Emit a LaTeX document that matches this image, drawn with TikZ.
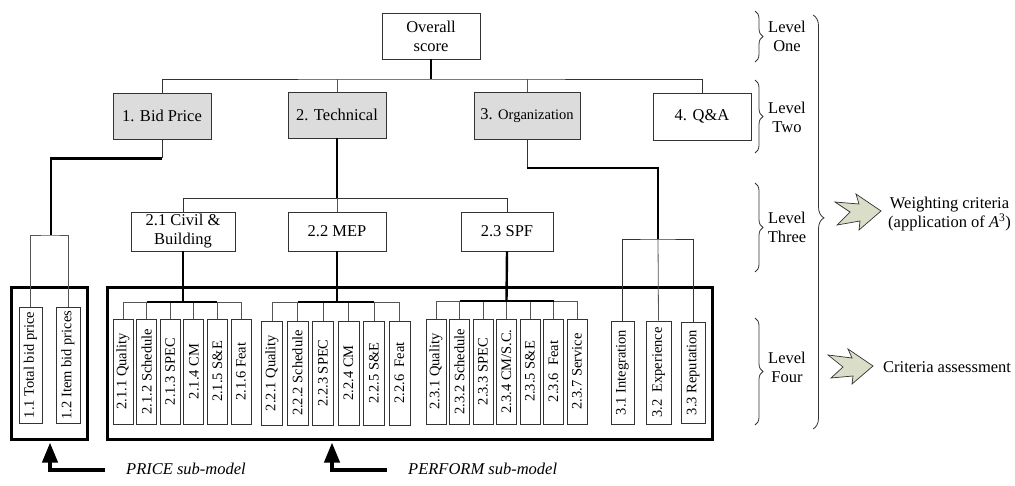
\documentclass[tikz,border=0pt]{standalone}
\usepackage{fontspec}
\setmainfont{Liberation Serif}
\usetikzlibrary{arrows.meta,decorations.pathreplacing}
\definecolor{boxgray}{HTML}{DCDCDC}
\definecolor{arrfill}{HTML}{DADDC8}
\definecolor{linec}{HTML}{333333}
\definecolor{thinc}{HTML}{555555}
\newcommand{\fsL}{\fontsize{16.5}{19}\selectfont}
\newcommand{\fsS}{\fontsize{14.5}{16}\selectfont}
\begin{document}
\begin{tikzpicture}[x=1pt,y=-1pt,
 box/.style={draw=linec, line width=0.9pt, inner sep=0pt, align=center, font=\fsL, fill=white},
 gbox/.style={box, fill=boxgray},
 vbox/.style={draw=linec, line width=0.9pt, inner sep=0pt, font=\fsS, minimum width=20pt, minimum height=105pt},
 conn/.style={draw=thinc, line width=0.8pt},
 busc/.style={draw=black, line width=1.4pt},
 thickc/.style={draw=black, line width=2.4pt},
 grp/.style={draw=black, line width=3pt, inner sep=0pt},
 lvbrace/.style={draw=linec, line width=0.8pt, decorate, decoration={brace, amplitude=8pt}},
 lvtext/.style={font=\fsL, align=center},
 bigarr/.style={draw=black, line width=4pt, -{Triangle[width=15pt,length=20pt]}},
 fancy/.style={draw=linec, line width=0.7pt, fill=arrfill, line join=miter}
]
\useasboundingbox (0,0) rectangle (1015,485);

% ---------- group outlines ----------
\node[grp, minimum width=76pt, minimum height=152pt] (price) at (49,363) {};
\node[grp, minimum width=605pt, minimum height=152pt] (perf) at (409.5,363) {};

% ---------- level 1 ----------
\node[box, minimum width=98pt, minimum height=46pt] (ov) at (431,36) {Overall\\score};

% ---------- level 2 ----------
\node[gbox, minimum width=98pt, minimum height=46pt] (bp) at (162,116) {1. Bid Price};
\node[gbox, minimum width=98pt, minimum height=46pt] (tech) at (337,115) {2. Technical};
\node[gbox, minimum width=106pt, minimum height=47pt] (org) at (527,116) {3. {\fontsize{14.5}{17}\selectfont Organization}};
\node[box, minimum width=98pt, minimum height=47pt] (qa) at (702,116.5) {4. Q\&A};

% ---------- level 3 ----------
\node[box, minimum width=104pt, minimum height=39pt] (civ) at (183,231.5) {2.1 Civil \&\\Building};
\node[box, minimum width=98pt, minimum height=39pt] (mep) at (337,231.5) {2.2 MEP};
\node[box, minimum width=92pt, minimum height=39pt] (spf) at (507,231.5) {2.3 SPF};

% ---------- level 4 ----------
\node[vbox, minimum width=23pt, minimum height=116pt] (p1) at (30.5,365) {\rotatebox{90}{1.1 Total bid price}};
\node[vbox, minimum width=24pt, minimum height=116pt] (p2) at (68,365) {\rotatebox{90}{1.2 Item bid prices}};

\node[vbox] (c1) at (123,371.5) {\rotatebox{90}{2.1.1 Quality}};
\node[vbox] (c2) at (146.6,371.5) {\rotatebox{90}{2.1.2 Schedule}};
\node[vbox] (c3) at (170.2,371.5) {\rotatebox{90}{2.1.3 SPEC}};
\node[vbox] (c4) at (193.8,371.5) {\rotatebox{90}{2.1.4 CM}};
\node[vbox] (c5) at (217.4,371.5) {\rotatebox{90}{2.1.5 S\&E}};
\node[vbox] (c6) at (241,371.5) {\rotatebox{90}{2.1.6 Feat}};

\node[vbox, minimum width=21pt, minimum height=104pt] (m1) at (272,373) {\rotatebox{90}{2.2.1 Quality}};
\node[vbox, minimum width=21pt, minimum height=104pt] (m2) at (297.5,373) {\rotatebox{90}{2.2.2 Schedule}};
\node[vbox, minimum width=21pt, minimum height=104pt] (m3) at (323,373) {\rotatebox{90}{2.2.3 SPEC}};
\node[vbox, minimum width=21pt, minimum height=104pt] (m4) at (348.5,373) {\rotatebox{90}{2.2.4 CM}};
\node[vbox, minimum width=21pt, minimum height=104pt] (m5) at (374,373) {\rotatebox{90}{2.2.5 S\&E}};
\node[vbox, minimum width=21pt, minimum height=104pt] (m6) at (399.5,373) {\rotatebox{90}{2.2.6\ \ Feat}};

\node[vbox] (s1) at (436,371.5) {\rotatebox{90}{2.3.1 Quality}};
\node[vbox] (s2) at (459.5,371.5) {\rotatebox{90}{2.3.2 Schedule}};
\node[vbox] (s3) at (483,371.5) {\rotatebox{90}{2.3.3 SPEC}};
\node[vbox] (s4) at (506.5,371.5) {\rotatebox{90}{2.3.4 CM/S.C.}};
\node[vbox] (s5) at (530,371.5) {\rotatebox{90}{2.3.5 S\&E}};
\node[vbox] (s6) at (553.5,371.5) {\rotatebox{90}{2.3.6\ \ Feat}};
\node[vbox] (s7) at (577,371.5) {\rotatebox{90}{2.3.7 Service}};

\node[vbox, minimum width=23pt, minimum height=103pt] (q1) at (622.5,372.5) {\rotatebox{90}{3.1 Integration}};
\node[vbox, minimum width=25pt, minimum height=103pt] (q2) at (658.5,372.5) {\rotatebox{90}{3.2\ \ Experience}};
\node[vbox, minimum width=24pt, minimum height=101pt] (q3) at (693,372.5) {\rotatebox{90}{3.3 Reputation}};

% ---------- connectors: level 1 -> 2 ----------
\coordinate (h1) at (431,79);
\draw[thickc, line width=1.8pt] (ov.south) -- (h1);
\draw[conn, draw=linec] (bp.north) |- (h1) -| (qa.north);
\draw[conn] (tech.north) -- (tech.north |- h1);
\draw[conn] (org.north) -- (org.north |- h1);

% ---------- bid price ----------
\draw[conn, draw=linec] (bp.south) -- ++(0,19) coordinate (b1);
\coordinate (pb) at (51,235);
\draw[thickc] (b1) -| (pb);
\draw[conn] (p1.north) |- (pb) -| (p2.north);

% ---------- technical ----------
\draw[thickc] (tech.south) -- ++(0,60) coordinate (t1);
\draw[conn, draw=linec] (civ.north) |- (t1) -| (spf.north);
\draw[conn] (t1) -- (mep.north);

% ---------- organization ----------
\draw[conn, draw=linec] (org.south) -- ++(0,28) coordinate (o1);
\coordinate (ob) at (658,239);
\draw[thickc] (o1) -| (ob);
\draw[conn, draw=linec] (q1.north) |- (ob) -| (q3.north);
\draw[conn] (ob) -- (q2.north);

% ---------- 2.1 group ----------
\coordinate (cb) at (183,302);
\draw[conn] (c1.north) |- (cb) -| (c6.north);
\foreach \n in {c2,c3,c4,c5} \draw[conn] (\n.north) -- (\n.north |- cb);
\draw[busc] (c2.north |- cb) -- (c5.north |- cb);
\draw[thickc] (civ.south) -- (cb);

% ---------- 2.2 group ----------
\coordinate (mb) at (337,302);
\draw[conn] (m1.north) |- (mb) -| (m6.north);
\foreach \n in {m2,m3,m4,m5} \draw[conn] (\n.north) -- (\n.north |- mb);
\draw[busc] (m2.north |- mb) -- (m5.north |- mb);
\draw[thickc] (mep.south) -- (mb);

% ---------- 2.3 group ----------
\coordinate (sb) at (506.5,301);
\draw[conn] (s1.north) |- (sb) -| (s7.north);
\foreach \n in {s2,s3,s4,s5,s6} \draw[conn] (\n.north) -- (\n.north |- sb);
\draw[busc] (s2.north |- sb) -- (s6.north |- sb);
\draw[thickc] (spf.south) -- (sb);

% ---------- level braces & labels ----------
\draw[lvbrace] (755,11) -- (755,62);
\draw[lvbrace] (755,80) -- (755,153);
\draw[lvbrace] (755,183) -- (755,272);
\draw[lvbrace] (755,318) -- (755,425);
\node[lvtext] (l1) at (787,36) {Level\\One};
\node[lvtext] (l2) at (787,117) {Level\\Two};
\node[lvtext] (l3) at (787,227.5) {Level\\Three};
\node[lvtext] (l4) at (787,367.5) {Level\\Four};
\draw[draw=linec, line width=0.8pt, decorate, decoration={brace, amplitude=11pt, aspect=0.49}] (813,15) -- (813,429);

% ---------- fancy arrows & right texts ----------
\draw[fancy, shift={(881,211)}] (-46,-9) -- (-22,-7) -- (-25,-17) -- (0,0) -- (-22,19) -- (-21,10) -- (-44,14) -- (-31,1) -- cycle;
\draw[fancy, shift={(873,366)}] (-45,-11) -- (-21,-8) -- (-25,-17) -- (0,0) -- (-21,18) -- (-20,10) -- (-42,12) -- (-30,1) -- cycle;
\node[lvtext, anchor=west, inner sep=0pt] (wt) at (888,214) {Weighting criteria\\(application of \textit{A}\textsuperscript{3})};
\node[font=\fsL, anchor=west, inner sep=0pt] (ct) at (883,367) {Criteria assessment};

% ---------- sub-model arrows ----------
\node[font=\fsL\itshape, anchor=west, inner sep=0pt] (pricetxt) at (126,469) {PRICE sub-model};
\node[font=\fsL\itshape, anchor=west, inner sep=0pt] (perftxt) at (408,469) {PERFORM sub-model};
\coordinate (pc1) at (50,470);
\coordinate (pc2) at (332,470);
\draw[bigarr] (pricetxt.west) ++(-21,1) -- (pc1) -- ([yshift=-2pt]pc1 |- price.south);
\draw[bigarr] (perftxt.west) ++(-21,1) -- (pc2) -- ([yshift=-2pt]pc2 |- perf.south);
\end{tikzpicture}
\end{document}
